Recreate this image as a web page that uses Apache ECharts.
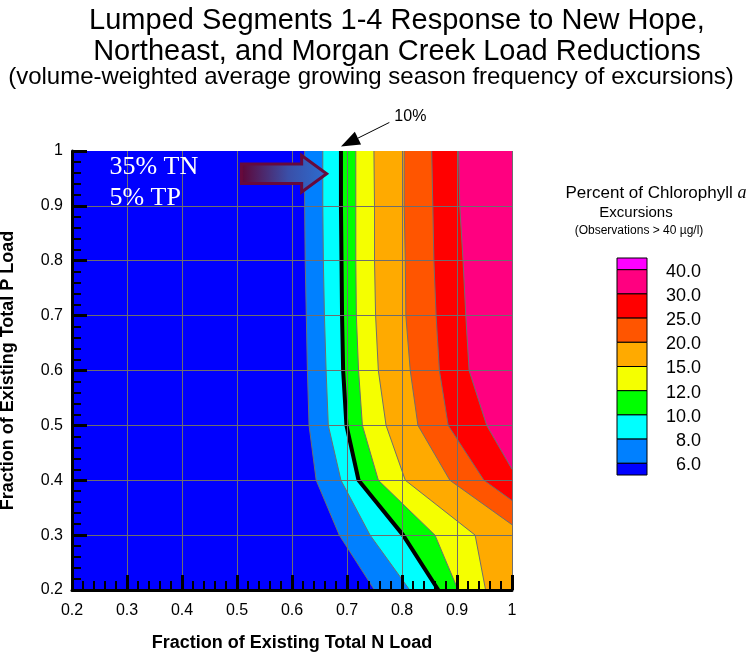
<!DOCTYPE html>
<html>
<head>
<meta charset="utf-8">
<script src="https://cdn.jsdelivr.net/npm/echarts@6/dist/echarts.min.js"></script>
<style>
html, body { margin: 0; padding: 0; background: #fff; }
#chart { width: 754px; height: 656px; }
</style>
</head>
<body>
<div id="chart"></div>
<script>
// rows of the contour grid (fraction of existing P load), top to bottom
const yRows = [1.0, 0.9, 0.8, 0.7, 0.6, 0.5, 0.4, 0.3, 0.2];

// N-load fraction where each excursion level is crossed, one value per row
const n06 = [0.623, 0.623, 0.624, 0.626, 0.628, 0.631, 0.644, 0.686, 0.750];
const n08 = [0.656, 0.656, 0.657, 0.659, 0.662, 0.666, 0.689, 0.742, 0.814];
const n10 = [0.689, 0.689, 0.690, 0.691, 0.693, 0.699, 0.721, 0.802, 0.866];
const n12 = [0.716, 0.716, 0.716, 0.717, 0.721, 0.728, 0.757, 0.860, 0.902];
const n15 = [0.749, 0.750, 0.750, 0.752, 0.757, 0.771, 0.806, 0.933, 0.952];
const n20 = [0.804, 0.804, 0.806, 0.807, 0.815, 0.829, 0.887];
const n25 = [0.854, 0.856, 0.858, 0.862, 0.868, 0.884, 0.949];
const n30 = [0.903, 0.905, 0.911, 0.916, 0.922, 0.954];
// where the upper levels run into the right edge (N = 1)
const n20EdgeY = 0.319;
const n25EdgeY = 0.363;
const n30EdgeY = 0.42;

const levelLabels = ['40.0', '30.0', '25.0', '20.0', '15.0', '12.0', '10.0', '8.0', '6.0'];
// band colours, low to high
const bandColors = ['#0000ff', '#0080ff', '#00ffff', '#00ff00', '#f5ff00', '#ffaa00', '#ff5500', '#ff0000', '#ff0080', '#ff00ff'];

// annotations (data coordinates)
const arrowTail = [0.508, 0.9585];
const arrowTip = [0.663, 0.9585];
const tnLabel = [0.268, 0.970];
const tpLabel = [0.268, 0.914];
const tenStart = [0.777, 1.052];
const tenTip = [0.689, 1.008];

const FONT = 'Liberation Sans, Arial, sans-serif';

function toPoints(xs, edgeY) {
    let pts = xs.map((x, i) => [x, yRows[i]]);
    if (edgeY !== undefined) pts.push([1, edgeY]);
    return pts;
}

const contours = [
    toPoints(n06), toPoints(n08), toPoints(n10), toPoints(n12), toPoints(n15),
    toPoints(n20, n20EdgeY), toPoints(n25, n25EdgeY), toPoints(n30, n30EdgeY)
];

let chart = echarts.init(document.getElementById('chart'), null, {renderer: 'canvas'});

// fill everything right of a contour with the colour of the band above it
function renderContour(params, api) {
    let pts = contours[params.dataIndex];
    let last = pts[pts.length - 1];
    let ring = pts.concat([[1, last[1]], [1, 1]]);
    return {
        type: 'group',
        children: [
            {
                type: 'polygon',
                shape: {points: ring.map(p => api.coord(p))},
                style: {fill: bandColors[params.dataIndex + 1]}
            },
            {
                type: 'polyline',
                shape: {points: pts.map(p => api.coord(p))},
                style: {stroke: '#6e6e6e', lineWidth: 1, fill: null}
            }
        ]
    };
}

const axisCommon = {
    type: 'value',
    min: 0.2,
    max: 1,
    interval: 0.1,
    z: 3,
    axisLine: {show: true, onZero: false, lineStyle: {color: '#000', width: 3}},
    axisTick: {show: true, inside: true, length: 15, lineStyle: {color: '#000', width: 3}},
    minorTick: {show: true, splitNumber: 5, length: 9, lineStyle: {color: '#000', width: 2}},
    axisLabel: {fontSize: 16, color: '#000', fontFamily: FONT},
    nameLocation: 'middle',
    nameTextStyle: {fontSize: 18, fontWeight: 'bold', color: '#000', fontFamily: FONT}
};

let option = {
    animation: false,
    title: [
        {
            text: 'Lumped Segments 1-4 Response to New Hope,\nNortheast, and Morgan Creek Load Reductions',
            left: 397, top: 5, textAlign: 'center', padding: 0,
            textStyle: {fontSize: 29, fontWeight: 'normal', color: '#000', fontFamily: FONT, lineHeight: 31}
        },
        {
            text: '(volume-weighted average growing season frequency of excursions)',
            left: 371, top: 65, textAlign: 'center', padding: 0,
            textStyle: {fontSize: 24, fontWeight: 'normal', color: '#000', fontFamily: FONT}
        }
    ],
    grid: {
        left: 72, right: 242, top: 151, bottom: 66,
        containLabel: false, outerBoundsMode: 'none',
        show: true, backgroundColor: '#0000ff', borderWidth: 0
    },
    xAxis: Object.assign({}, axisCommon, {
        name: 'Fraction of Existing Total N Load',
        nameGap: 44,
        axisLabel: Object.assign({}, axisCommon.axisLabel, {margin: 13}),
        splitLine: {show: true, lineStyle: {color: '#6e6e6e', width: 1}}
    }),
    yAxis: Object.assign({}, axisCommon, {
        name: 'Fraction of Existing Total P Load',
        nameGap: 55,
        axisLabel: Object.assign({}, axisCommon.axisLabel, {margin: 9}),
        splitLine: {show: true, showMaxLine: false, lineStyle: {color: '#6e6e6e', width: 1}}
    }),
    series: [
        {
            type: 'custom',
            z: 1,
            silent: true,
            renderItem: renderContour,
            data: contours.map(c => c[0])
        },
        {
            // the 10% excursion contour
            type: 'line',
            z: 2,
            silent: true,
            symbol: 'none',
            data: contours[2],
            lineStyle: {color: '#000', width: 4}
        }
    ]
};
chart.setOption(option);

// legend box and annotations
let legendX = 617, legendW = 30, legendTop = 258, unit = 24.2, endUnit = 11.7;
let legendColors = bandColors.slice().reverse();
let graphics = [];
let yy = legendTop;
legendColors.forEach((c, i) => {
    let h = (i === 0 || i === legendColors.length - 1) ? endUnit : unit;
    graphics.push({
        type: 'rect', z: 100,
        shape: {x: legendX, y: yy, width: legendW, height: h},
        style: {fill: c, stroke: '#000', lineWidth: 1}
    });
    yy += h;
    if (i < levelLabels.length) {
        graphics.push({
            type: 'text', z: 100, x: 701, y: yy + 2,
            style: {text: levelLabels[i], fontSize: 18, fontFamily: FONT, fill: '#000', align: 'right', verticalAlign: 'middle'}
        });
    }
});

graphics.push({
    type: 'text', z: 100, x: 656, y: 193,
    style: {
        text: 'Percent of Chlorophyll {a|a}', fontSize: 17, fontFamily: FONT, fill: '#000',
        align: 'center', verticalAlign: 'middle',
        rich: {a: {fontFamily: 'Liberation Serif, serif', fontStyle: 'italic', fontSize: 18}}
    }
});
graphics.push({
    type: 'text', z: 100, x: 636, y: 213,
    style: {text: 'Excursions', fontSize: 15, fontFamily: FONT, fill: '#000', align: 'center', verticalAlign: 'middle'}
});
graphics.push({
    type: 'text', z: 100, x: 639, y: 231,
    style: {text: '(Observations > 40 \u00b5g/l)', fontSize: 12, fontFamily: FONT, fill: '#000', align: 'center', verticalAlign: 'middle'}
});

// big reduction arrow
let tail = chart.convertToPixel({gridIndex: 0}, arrowTail);
let tip = chart.convertToPixel({gridIndex: 0}, arrowTip);
let bh = 9.7, hh = 18.3, hl = 25;
let hb = tip[0] - hl;
graphics.push({
    type: 'polygon', z: 100,
    shape: {points: [
        [tail[0], tip[1] - bh], [hb, tip[1] - bh], [hb, tip[1] - hh], [tip[0], tip[1]],
        [hb, tip[1] + hh], [hb, tip[1] + bh], [tail[0], tip[1] + bh]
    ]},
    style: {
        fill: new echarts.graphic.LinearGradient(0, 0, 1, 0, [
            {offset: 0, color: '#5e0434'},
            {offset: 0.55, color: '#3a4fa8'},
            {offset: 1, color: '#2c6fd2'}
        ]),
        stroke: '#660a3c', lineWidth: 3, lineJoin: 'miter'
    }
});

let tn = chart.convertToPixel({gridIndex: 0}, tnLabel);
let tp = chart.convertToPixel({gridIndex: 0}, tpLabel);
graphics.push({
    type: 'text', z: 100, x: tn[0], y: tn[1],
    style: {text: '35% TN', fontSize: 26, fontFamily: 'Liberation Serif, Times New Roman, serif', fill: '#fff', align: 'left', verticalAlign: 'middle'}
});
graphics.push({
    type: 'text', z: 100, x: tp[0], y: tp[1],
    style: {text: '5% TP', fontSize: 26, fontFamily: 'Liberation Serif, Times New Roman, serif', fill: '#fff', align: 'left', verticalAlign: 'middle'}
});

// 10% pointer
let s = chart.convertToPixel({gridIndex: 0}, tenStart);
let t = chart.convertToPixel({gridIndex: 0}, tenTip);
let dx = t[0] - s[0], dy = t[1] - s[1];
let len = Math.sqrt(dx * dx + dy * dy);
let ux = dx / len, uy = dy / len;
let headLen = 19, headHalf = 7;
let bx = t[0] - ux * headLen, by = t[1] - uy * headLen;
graphics.push({
    type: 'line', z: 100,
    shape: {x1: s[0], y1: s[1], x2: bx, y2: by},
    style: {stroke: '#000', lineWidth: 1}
});
graphics.push({
    type: 'polygon', z: 100,
    shape: {points: [[t[0], t[1]], [bx - uy * headHalf, by + ux * headHalf], [bx + uy * headHalf, by - ux * headHalf]]},
    style: {fill: '#000'}
});
graphics.push({
    type: 'text', z: 100, x: s[0] + 5, y: s[1] - 6,
    style: {text: '10%', fontSize: 16, fontFamily: FONT, fill: '#000', align: 'left', verticalAlign: 'middle'}
});

chart.setOption({graphic: graphics});
</script>
</body>
</html>
